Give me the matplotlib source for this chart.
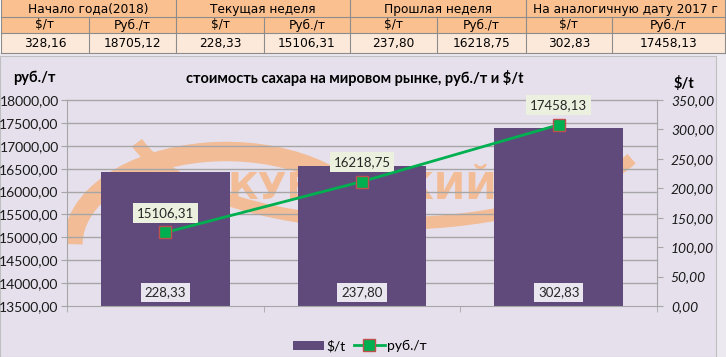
import matplotlib
matplotlib.use("Agg")
import matplotlib.pyplot as plt
from matplotlib.patches import Rectangle, Arc
from matplotlib.transforms import blended_transform_factory

# %% data
groups = ["Начало года(2018)", "Текущая неделя", "Прошлая неделя", "На аналогичную дату 2017 г"]
sub_headers = ["$/т", "Руб./т"]
table_values = ["328,16", "18705,12", "228,33", "15106,31", "237,80", "16218,75", "302,83", "17458,13"]

categories = ["текущая неделя", "прошедшая неделя", "прошлый год"]
usd_per_t = [228.33, 237.80, 302.83]
rub_per_t = [15106.31, 16218.75, 17458.13]

left_ticks = [13500, 14000, 14500, 15000, 15500, 16000, 16500, 17000, 17500, 18000]
right_ticks = [0, 50, 100, 150, 200, 250, 300, 350]

def fmt(v):
    return f"{v:.2f}".replace(".", ",")

# %% figure and table (pixel coordinates)
W, H = 726, 357
fig = plt.figure(figsize=(W / 100, H / 100), dpi=100)
fig.patch.set_facecolor("white")
bg = fig.add_axes([0, 0, 1, 1])
bg.set_xlim(0, W)
bg.set_ylim(H, 0)
bg.axis("off")

orange = "#FAC090"
peach = "#FDE9D9"
border = "#8C8C8C"
tfont = "DejaVu Sans"

# chart background box
bg.add_patch(Rectangle((0, 53), W, H - 53, facecolor="#ECEAF0", edgecolor="none"))
bg.add_patch(Rectangle((0, 56), 716, H - 56, facecolor="#E6E0EC", edgecolor="#BFBFBF", lw=0.8))

group_edges = [1, 176, 350, 526, 725]
sub_edges = [89, 264, 437, 612]
rows = [0, 17, 33, 53]

bg.add_patch(Rectangle((1, 0), 724, 33, facecolor=orange, edgecolor="none"))
bg.add_patch(Rectangle((1, 33), 724, 20, facecolor=peach, edgecolor="none"))
for y in rows[1:]:
    bg.plot([1, 725], [y, y], color=border, lw=0.8)
for x in group_edges:
    bg.plot([x, x], [0, 53], color=border, lw=0.8)
for x in sub_edges:
    bg.plot([x, x], [17, 53], color=border, lw=0.8)

for i, g in enumerate(groups):
    x0, x1 = group_edges[i], group_edges[i + 1]
    bg.text((x0 + x1) / 2, 9, g, ha="center", va="center", fontsize=8.7, family=tfont)
    cols = [x0, sub_edges[i], x1]
    for j in range(2):
        cx = (cols[j] + cols[j + 1]) / 2
        bg.text(cx, 25, sub_headers[j], ha="center", va="center", fontsize=8.7, family=tfont)
        bg.text(cx, 43.5, table_values[i * 2 + j], ha="center", va="center", fontsize=8.7, family=tfont)

# %% chart
cfont = "Lato"
px_l, px_r, px_t, px_b = 67, 657, 100, 306
ax = fig.add_axes([px_l / W, 1 - px_b / H, (px_r - px_l) / W, (px_b - px_t) / H])
ax2 = ax.twinx()
ax.set_facecolor("none")
ax2.set_facecolor("none")

x = list(range(len(categories)))
ax.set_xlim(-0.5, 2.5)
ax.set_ylim(0, 350)
ax2.set_ylim(13500, 18000)

# bars on the $/t axis (right side), line on the руб./т axis (left side)
ax.yaxis.tick_right()
ax.yaxis.set_label_position("right")
ax2.yaxis.tick_left()

# watermark logo
wm = "#F2BC96"
ax.add_patch(Arc((0.27, 0.30), 0.52, 0.90, theta1=25, theta2=180, transform=ax.transAxes,
                 color=wm, lw=14, zorder=0.5))
ax.add_patch(Arc((0.55, 0.95), 0.90, 1.10, theta1=200, theta2=330, transform=ax.transAxes,
                 color=wm, lw=9, zorder=0.5))
ax.text(0.50, 0.57, "КУБАНСКИЙ", transform=ax.transAxes, ha="center", va="center",
        fontsize=27, fontweight="bold", color=wm, family="DejaVu Sans", zorder=0.6)

# gridlines following the left axis, behind the bars
gtr = blended_transform_factory(ax.transAxes, ax2.transData)
for v in left_ticks[1:]:
    ax.plot([0, 1], [v, v], color="#A6A6A6", lw=1.0, transform=gtr, zorder=1, clip_on=False)

bars = ax.bar(x, usd_per_t, width=0.655, color="#604A7B", zorder=2, label="$/t")
for xi, v in zip(x, usd_per_t):
    ax.text(xi, 23, fmt(v), ha="center", va="center", fontsize=9.5, family=cfont, color="#262626",
            zorder=3, bbox=dict(boxstyle="square,pad=0.3", facecolor="#EAE6EF", edgecolor="none"))

line, = ax2.plot(x, rub_per_t, color="#00B050", lw=2, marker="s", markersize=8,
                 markerfacecolor="#00B050", markeredgecolor="#C0504D", markeredgewidth=1,
                 label="руб./т", zorder=5)
for xi, v in zip(x, rub_per_t):
    ax2.annotate(fmt(v), (xi, v), xytext=(0, 14), textcoords="offset points", ha="center",
                 va="center", fontsize=9.5, family=cfont, color="#262626",
                 bbox=dict(boxstyle="square,pad=0.3", facecolor="#EBF1DE", edgecolor="none"))

for a in (ax, ax2):
    for s in a.spines.values():
        s.set_visible(False)
ax2.spines["left"].set_visible(True)
ax2.spines["left"].set_color("#A6A6A6")
ax.spines["right"].set_visible(True)
ax.spines["right"].set_color("#A6A6A6")
ax.spines["bottom"].set_visible(True)
ax.spines["bottom"].set_color("#A6A6A6")

ax2.set_yticks(left_ticks)
ax2.set_yticklabels([fmt(v) for v in left_ticks], fontsize=10, family=cfont)
ax.set_yticks(right_ticks)
ax.set_yticklabels([fmt(v) for v in right_ticks], fontsize=10, family=cfont, style="italic")
ax2.tick_params(axis="y", colors="#A6A6A6", labelcolor="#1A1A1A", length=4, pad=2)
ax.tick_params(axis="y", colors="#A6A6A6", labelcolor="#1A1A1A", length=4, pad=6)

ax.set_xticks([-0.5, 0.5, 1.5, 2.5], minor=True)
ax.set_xticks(x)
ax.set_xticklabels(categories, fontsize=10, fontweight="bold", family=cfont)
ax.tick_params(axis="x", which="major", length=0, pad=9)
ax.tick_params(axis="x", which="minor", length=4, color="#A6A6A6")
ax2.set_xticks([])

# titles
bg.text(355, 78, "стоимость сахара на мировом рынке, руб./т и $/t", ha="center", va="center",
        fontsize=10.5, fontweight="bold", family=cfont)
bg.text(34, 78, "руб./т", ha="center", va="center", fontsize=10.5, fontweight="bold", family=cfont)
bg.text(684, 84, "$/t", ha="center", va="center", fontsize=10.5, fontweight="bold", family=cfont)

# legend
leg = fig.legend([bars, line], ["$/t", "руб./т"], loc="center", bbox_to_anchor=(360 / W, 1 - 346 / H),
                 ncol=2, frameon=False, fontsize=10, handlelength=2.2, columnspacing=0.6,
                 handletextpad=0.2, prop={"family": cfont, "size": 10})

fig.savefig("out.png", dpi=100)
